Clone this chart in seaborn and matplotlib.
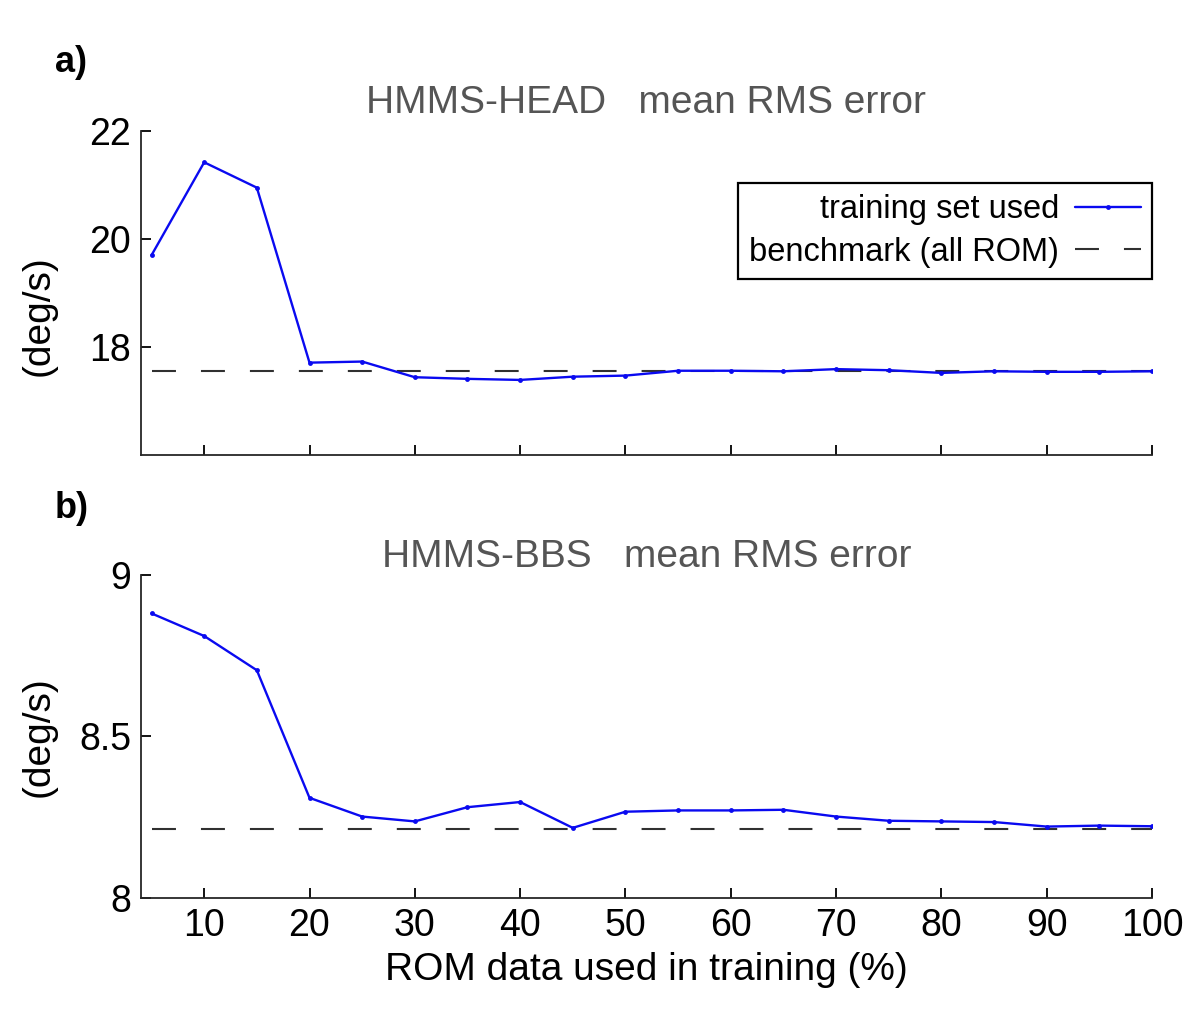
import numpy as np
import pandas as pd
import matplotlib
matplotlib.use("Agg")
import matplotlib.pyplot as plt
import seaborn as sns

# ROM data used in training (%)
rom_pct = [5, 10, 15, 20, 25, 30, 35, 40, 45, 50, 55, 60, 65, 70, 75, 80, 85, 90, 95, 100]

# a) HMMS-HEAD mean RMS error (deg/s)
head_rms = [19.70, 21.42, 20.95, 17.71, 17.73, 17.44, 17.41, 17.39, 17.45, 17.47,
            17.56, 17.56, 17.55, 17.59, 17.57, 17.52, 17.55, 17.54, 17.54, 17.55]
head_bench = 17.55

# b) HMMS-BBS mean RMS error (deg/s)
bbs_rms = [8.881, 8.811, 8.705, 8.310, 8.252, 8.237, 8.281, 8.297, 8.217, 8.267,
           8.271, 8.271, 8.273, 8.252, 8.239, 8.237, 8.235, 8.221, 8.224, 8.222]
bbs_bench = 8.214

x_ticks = [10, 20, 30, 40, 50, 60, 70, 80, 90, 100]
head_yticks = [18, 20, 22]
head_ylabels = ["18", "20", "22"]
bbs_yticks = [8, 8.5, 9]
bbs_ylabels = ["8", "8.5", "9"]

sns.set_style("ticks")
plt.rcParams["font.family"] = ["Liberation Sans", "DejaVu Sans"]
plt.rcParams["text.color"] = "black"
plt.rcParams["axes.labelcolor"] = "black"
plt.rcParams["xtick.direction"] = "in"
plt.rcParams["ytick.direction"] = "in"
plt.rcParams["axes.linewidth"] = 1.3
plt.rcParams["xtick.major.width"] = 1.3
plt.rcParams["ytick.major.width"] = 1.3
plt.rcParams["xtick.major.size"] = 7.5
plt.rcParams["ytick.major.size"] = 7.5

fig = plt.figure(figsize=(12, 10.28), dpi=100)
ax1 = fig.add_axes([0.1175, 0.5574, 0.8425, 0.3152])
ax2 = fig.add_axes([0.1175, 0.1265, 0.8425, 0.3142])

line_col = "#0a0af0"
bench_col = "#303030"
dash = (11.5, 12)

panels = [
    (ax1, head_rms, head_bench, (16, 22), head_yticks, head_ylabels,
     "HMMS-HEAD   mean RMS error", 13, 0.43),
    (ax2, bbs_rms, bbs_bench, (8, 9), bbs_yticks, bbs_ylabels,
     "HMMS-BBS   mean RMS error", 4, 0.5),
]

for ax, vals, bench, ylim, yt, ytl, title, pad, ylab_y in panels:
    df = pd.DataFrame({"rom": rom_pct, "rms": vals})
    sns.lineplot(data=df, x="rom", y="rms", ax=ax, color=line_col, lw=1.7,
                 marker="o", markersize=3.5, markeredgewidth=0,
                 label="training set used")
    ax.plot([rom_pct[0], rom_pct[-1]], [bench, bench], color=bench_col, lw=1.5,
            ls=(0, dash), label="benchmark (all ROM)", zorder=1)
    ax.set_xlim(4, 100)
    ax.set_ylim(*ylim)
    ax.set_xticks(x_ticks)
    ax.set_yticks(yt)
    ax.set_yticklabels(ytl)
    ax.tick_params(labelsize=27, colors="black", pad=7)
    ax.set_title(title, fontsize=28, color="#555555", pad=pad)
    ax.set_ylabel("(deg/s)", fontsize=28)
    ax.yaxis.set_label_coords(-0.083, ylab_y)
    sns.despine(ax=ax)

ax1.set_xlabel("")
ax1.set_xticklabels([])
ax2.set_xlabel("ROM data used in training (%)", fontsize=28, labelpad=6)

ax2.get_legend().remove()
leg = ax1.legend(loc="upper right", bbox_to_anchor=(1.0, 0.84), borderaxespad=0,
                 markerfirst=False, fontsize=23.5, handlelength=2.0,
                 fancybox=False, framealpha=1, edgecolor="black",
                 borderpad=0.35, labelspacing=0.35, handletextpad=0.5)
leg.get_frame().set_linewidth(1.6)
for t in leg.get_texts():
    t.set_ha("right")
    t.set_color("black")

fig.text(55 / 1200, 1 - 72 / 1028, "a)", fontsize=26, fontweight="bold")
fig.text(55 / 1200, 1 - 518 / 1028, "b)", fontsize=26, fontweight="bold")

fig.savefig("out.png", dpi=100)
